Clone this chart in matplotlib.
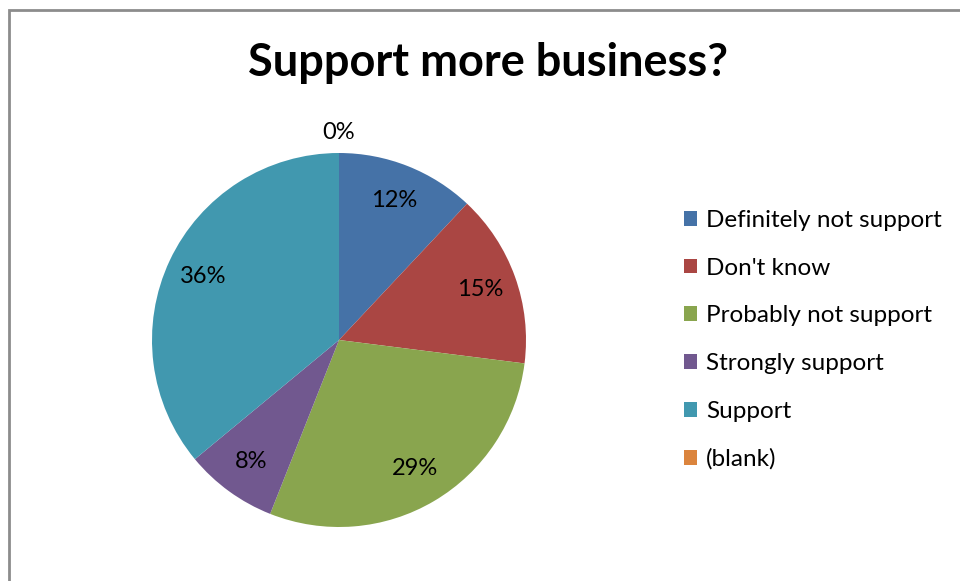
import numpy as np
import matplotlib

matplotlib.use("Agg")
import matplotlib.pyplot as plt
from matplotlib.patches import Rectangle

plt.rcParams["font.family"] = ["Lato", "DejaVu Sans"]

categories = [
    "Definitely not support",
    "Don't know",
    "Probably not support",
    "Strongly support",
    "Support",
    "(blank)",
]
shares = [12, 15, 29, 8, 36, 0]
colors = ["#4572A7", "#AA4643", "#89A54E", "#71588F", "#4198AF", "#DB843D"]

W, H = 960, 581
fig = plt.figure(figsize=(W / 100, H / 100), dpi=100)

# chart frame (runs off the right and bottom edges like the source screenshot)
fig.patches.append(Rectangle((9 / W, -0.1), 1.2, (H - 10) / H + 0.1,
                             transform=fig.transFigure, fill=False,
                             edgecolor="#8c8c8c", linewidth=2))

fig.text(488 / W, 1 - 63 / H, "Support more business?", ha="center", va="center",
         fontsize=32.5, fontweight="bold")

cx, cy, r = 339, 340, 187
ax = fig.add_axes([(cx - r) / W, 1 - (cy + r) / H, 2 * r / W, 2 * r / H])
wedges, _ = ax.pie(shares, colors=colors, startangle=90, counterclock=False,
                   radius=1, wedgeprops=dict(linewidth=0))
ax.set_xlim(-1, 1)
ax.set_ylim(-1, 1)
ax.set_aspect("equal")
ax.axis("off")

for w, v in zip(wedges, shares):
    mid = np.deg2rad((w.theta1 + w.theta2) / 2)
    dist = 0.8 if v > 0 else 1.11
    ax.text(dist * np.cos(mid), dist * np.sin(mid), f"{v}%", ha="center", va="center",
            fontsize=17)

fig.legend(wedges, categories, loc="upper left", bbox_to_anchor=(662 / W, 1 - 188 / H),
           frameon=False, fontsize=17.5, handlelength=0.55, handleheight=0.55,
           handletextpad=0.35, labelspacing=1.1)

fig.savefig("out.png", dpi=100)
